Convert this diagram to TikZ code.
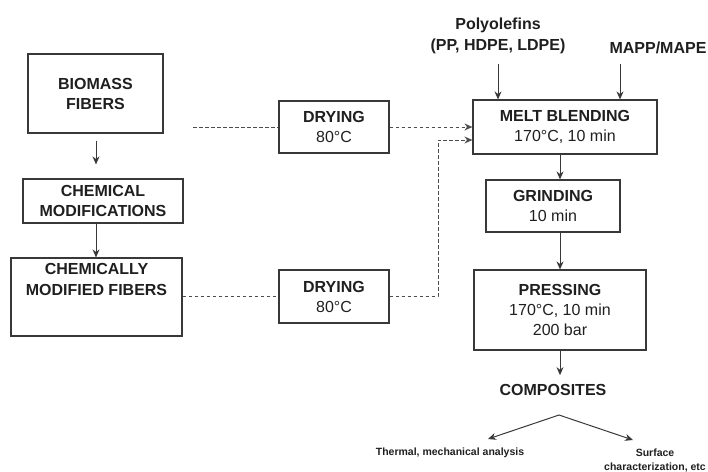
\documentclass[tikz,border=0pt]{standalone}
\usepackage{fontspec}
\setmainfont{Liberation Sans}
\usetikzlibrary{arrows.meta}
\definecolor{ln}{gray}{0.22}
\definecolor{tx}{gray}{0.12}
\begin{document}
\begin{tikzpicture}[x=1pt,y=-1pt,
  every node/.style={text=tx},
  box/.style={draw=ln, line width=1.2pt, inner sep=0pt, align=center,
    font=\fontsize{16}{20}\selectfont},
  lbl/.style={inner sep=0pt, align=center, font=\bfseries\fontsize{16}{21}\selectfont},
  small/.style={inner sep=0pt, align=center, font=\bfseries\fontsize{10.5}{14}\selectfont},
  arr/.style={draw=ln, line width=1pt, -{Stealth[length=8pt,width=7pt]}},
  dsh/.style={draw=ln!90, line width=1pt, dash pattern=on 3.5pt off 2.5pt},
  dsharr/.style={dsh, -{Stealth[length=8pt,width=7pt]}}]
\useasboundingbox (0,0) rectangle (708,471);

\node[box, minimum width=135pt, minimum height=79pt] (bio) at (95.5,93.5) {\textbf{BIOMASS}\\\textbf{FIBERS}};
\node[box, minimum width=160pt, minimum height=44pt] (chem) at (103,201) {\textbf{CHEMICAL}\\\textbf{MODIFICATIONS}};
\node[box, minimum width=171pt, minimum height=78pt,
  label={[inner sep=0pt, align=center, font=\bfseries\fontsize{16}{21}\selectfont, text=tx, anchor=north, yshift=-6pt]north:CHEMICALLY\\MODIFIED FIBERS}] (cmf) at (96.5,297) {};
\node[box, minimum width=110pt, minimum height=52pt] (dry1) at (334,127) {\textbf{DRYING}\\80°C};
\node[box, minimum width=110pt, minimum height=53pt] (dry2) at (334,296.5) {\textbf{DRYING}\\80°C};
\node[box, minimum width=184pt, minimum height=54pt] (melt) at (565,127) {\textbf{MELT BLENDING}\\170°C, 10 min};
\node[box, minimum width=134pt, minimum height=52pt] (grind) at (553,206) {\textbf{GRINDING}\\10 min};
\node[box, minimum width=172pt, minimum height=80pt] (press) at (560,310) {\textbf{PRESSING}\\170°C, 10 min\\200 bar};

\node[lbl] (poly) at (498,36) {Polyolefins\\(PP, HDPE, LDPE)};
\node[lbl] (mapp) at (658,48) {MAPP/MAPE};
\node[lbl] (comp) at (553,390) {COMPOSITES};
\node[small] (therm) at (450,453) {Thermal, mechanical analysis};
\node[small] (surf) at (655,460) {Surface\\characterization, etc};

\coordinate (apex) at (559,415);
\coordinate (lend) at (488,439);
\coordinate (rend) at (633,440);
\coordinate (d1s) at (193,127);
\coordinate (bend1) at (438,296.5);
\coordinate (bend2) at (438,140);

% solid arrows
\draw[arr, shorten <=7pt, shorten >=14pt] (bio.south -| 96,0) -- (chem.north -| 96,0);
\draw[arr] (chem.south -| 96,0) -- (cmf.north -| 96,0);
\draw[arr, shorten <=10pt] (poly.south) -- (melt.north -| poly.south);
\draw[arr, shorten <=10pt] (mapp.south -| 620,0) -- (melt.north -| 620,0);
\draw[arr] (melt.south -| press.north) -- (grind.north -| press.north);
\draw[arr] (grind.south -| press.north) -- (press.north);
\draw[arr, shorten >=9pt] (press.south) -- (comp.north -| press.south);
\draw[arr] (apex) -- (lend);
\draw[arr] (apex) -- (rend);

% dashed connectors
\draw[dsh] (d1s) -- (dry1.west);
\draw[dsharr] (dry1.east) -- (melt.west);
\draw[dsh] (cmf.east |- dry2.west) -- (dry2.west);
\draw[dsharr] (dry2.east) -- (bend1) -- (bend2) -- (bend2 -| melt.west);
\end{tikzpicture}
\end{document}
